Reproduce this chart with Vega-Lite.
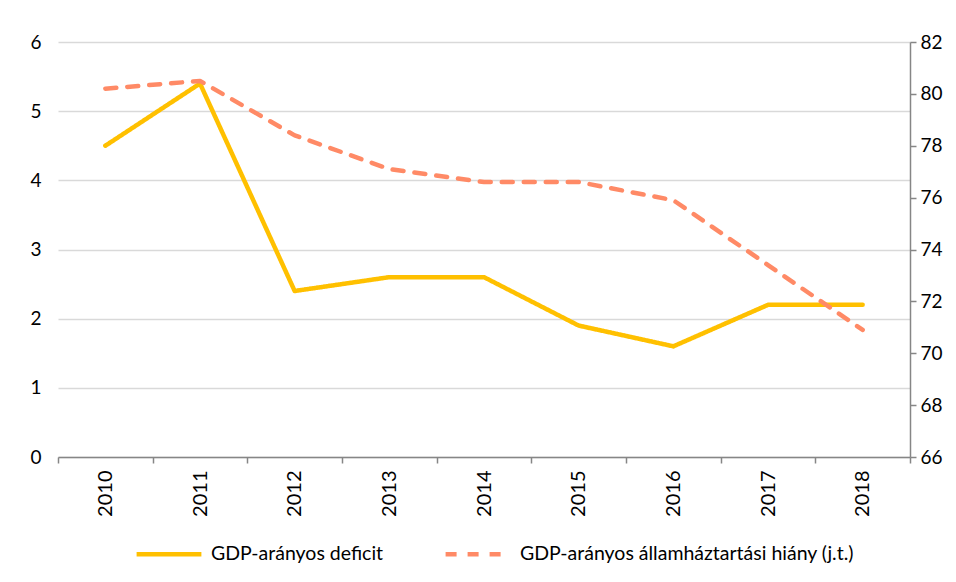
{
  "$schema": "https://vega.github.io/schema/vega-lite/v6.json",
  "width": 852,
  "height": 415,
  "autosize": {"type": "none"},
  "padding": {"left": 58, "top": 42, "right": 46, "bottom": 125},
  "background": "white",
  "config": {
    "font": "Lato",
    "view": {"stroke": null},
    "axis": {"labelFont": "Lato", "labelColor": "#000000", "labelFontSize": 19, "title": null}
  },
  "data": {
    "values": [
      {"ev": "2010", "deficit": 4.5, "adossag": 80.2},
      {"ev": "2011", "deficit": 5.4, "adossag": 80.5},
      {"ev": "2012", "deficit": 2.4, "adossag": 78.4},
      {"ev": "2013", "deficit": 2.6, "adossag": 77.1},
      {"ev": "2014", "deficit": 2.6, "adossag": 76.6},
      {"ev": "2015", "deficit": 1.9, "adossag": 76.6},
      {"ev": "2016", "deficit": 1.6, "adossag": 75.9},
      {"ev": "2017", "deficit": 2.2, "adossag": 73.4},
      {"ev": "2018", "deficit": 2.2, "adossag": 70.9}
    ]
  },
  "encoding": {
    "x": {
      "field": "ev",
      "type": "ordinal",
      "bandPosition": 0.5,
      "scale": {"type": "band", "paddingInner": 0, "paddingOuter": 0},
      "axis": {
        "tickBand": "extent",
        "domainColor": "#868686",
        "domainWidth": 1.5,
        "tickColor": "#868686",
        "tickWidth": 1.5,
        "tickSize": 6,
        "labelAngle": -90,
        "labelAlign": "right",
        "labelBaseline": "middle",
        "labelPadding": 7,
        "labelFontSize": 20,
        "grid": false
      }
    }
  },
  "layer": [
    {
      "mark": {"type": "line", "strokeWidth": 4.5, "strokeCap": "round", "strokeJoin": "round"},
      "encoding": {
        "y": {
          "field": "deficit",
          "type": "quantitative",
          "scale": {"domain": [0, 6], "nice": false, "zero": false},
          "axis": {
            "orient": "left",
            "values": [0, 1, 2, 3, 4, 5, 6],
            "domain": false,
            "ticks": false,
            "grid": true,
            "gridColor": "#d9d9d9",
            "gridWidth": 1.5,
            "labelPadding": 17
          }
        },
        "color": {
          "datum": "GDP-arányos deficit",
          "type": "nominal",
          "scale": {
            "domain": ["GDP-arányos deficit", "GDP-arányos államháztartási hiány (j.t.)"],
            "range": ["#FFC000", "#FF8A66"]
          },
          "legend": {
            "orient": "none",
            "legendX": 76,
            "legendY": 477,
            "direction": "horizontal",
            "title": null,
            "symbolType": "stroke",
            "symbolSize": 4200,
            "symbolStrokeWidth": 4.5,
            "labelFontSize": 19.5,
            "labelFont": "Lato",
            "labelColor": "#000000",
            "labelLimit": 500,
            "labelOffset": 7,
            "columnPadding": 52
          }
        },
        "strokeDash": {
          "datum": "GDP-arányos deficit",
          "type": "nominal",
          "scale": {
            "domain": ["GDP-arányos deficit", "GDP-arányos államháztartási hiány (j.t.)"],
            "range": [[1, 0], [11, 11]]
          }
        }
      }
    },
    {
      "mark": {"type": "line", "strokeWidth": 4.5, "strokeCap": "round", "strokeJoin": "round"},
      "encoding": {
        "y": {
          "field": "adossag",
          "type": "quantitative",
          "scale": {"domain": [66, 82], "nice": false, "zero": false},
          "axis": {
            "orient": "right",
            "values": [66, 68, 70, 72, 74, 76, 78, 80, 82],
            "domain": true,
            "domainColor": "#868686",
            "domainWidth": 1.5,
            "ticks": true,
            "tickColor": "#868686",
            "tickWidth": 1.5,
            "tickSize": 6,
            "grid": false,
            "labelPadding": 4
          }
        },
        "color": {"datum": "GDP-arányos államháztartási hiány (j.t.)", "type": "nominal"},
        "strokeDash": {"datum": "GDP-arányos államháztartási hiány (j.t.)", "type": "nominal"}
      }
    }
  ],
  "resolve": {"scale": {"y": "independent"}}
}
